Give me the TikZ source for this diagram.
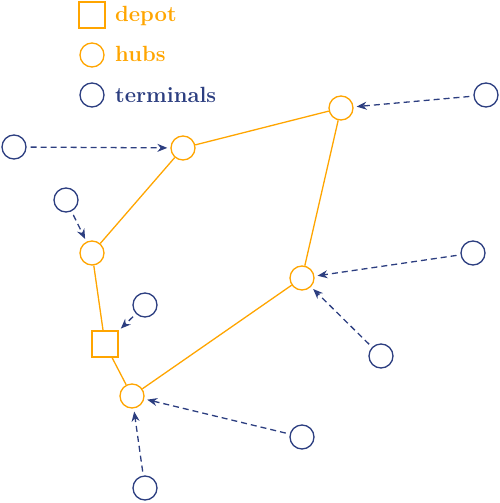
\documentclass[tikz,border=0pt]{standalone}
\usetikzlibrary{arrows.meta}
\definecolor{hubc}{RGB}{255,165,0}
\definecolor{termc}{RGB}{44,62,128}
\begin{document}
\begin{tikzpicture}[x=1pt,y=-1pt,
  hub/.style={circle,draw=hubc,line width=1.3pt,minimum size=24pt,inner sep=0pt},
  depotbox/.style={rectangle,draw=hubc,line width=1.3pt,minimum size=26pt,inner sep=0pt},
  term/.style={circle,draw=termc,line width=1.3pt,minimum size=24pt,inner sep=0pt},
  link/.style={draw=hubc,line width=1.3pt},
  feed/.style={draw=termc,line width=1.3pt,dash pattern=on 6pt off 4pt,-{Stealth[length=10pt,width=8pt]},shorten <=4pt,shorten >=3pt},
  lab/.style={anchor=base west,inner sep=0pt,font=\fontsize{22}{26}\selectfont\bfseries}]
\useasboundingbox (0,0) rectangle (500,503);
% legend
\node[depotbox] (ld) at (92,15) {};
\node[lab,text=hubc] (ldt) at (115,22) {depot};
\node[hub] (lh) at (92,55) {};
\node[lab,text=hubc] (lht) at (115,62) {hubs};
\node[term] (lt) at (92,95) {};
\node[lab,text=termc] (ltt) at (115,102) {terminals};
% hubs and depot
\node[hub] (h1) at (341,108) {};
\node[hub] (h2) at (183,148) {};
\node[hub] (h3) at (92,253) {};
\node[hub] (h4) at (302,278) {};
\node[hub] (h5) at (132,396) {};
\node[depotbox] (d) at (105,344) {};
% terminals
\node[term] (t1) at (486,95) {};
\node[term] (t2) at (14,147) {};
\node[term] (t3) at (66,200) {};
\node[term] (t4) at (473,253) {};
\node[term] (t5) at (145,305) {};
\node[term] (t6) at (381,356) {};
\node[term] (t7) at (302,437) {};
\node[term] (t8) at (145,488) {};
% hub links
\draw[link] (h1) -- (h2);
\draw[link] (h2) -- (h3);
\draw[link] (h3) -- (d);
\draw[link] (d) -- (h5);
\draw[link] (h5) -- (h4);
\draw[link] (h4) -- (h1);
% feeders
\draw[feed] (t1) -- (h1);
\draw[feed] (t2) -- (h2);
\draw[feed] (t3) -- (h3);
\draw[feed] (t4) -- (h4);
\draw[feed] (t5) -- (d);
\draw[feed] (t6) -- (h4);
\draw[feed] (t7) -- (h5);
\draw[feed] (t8) -- (h5);
\end{tikzpicture}
\end{document}
